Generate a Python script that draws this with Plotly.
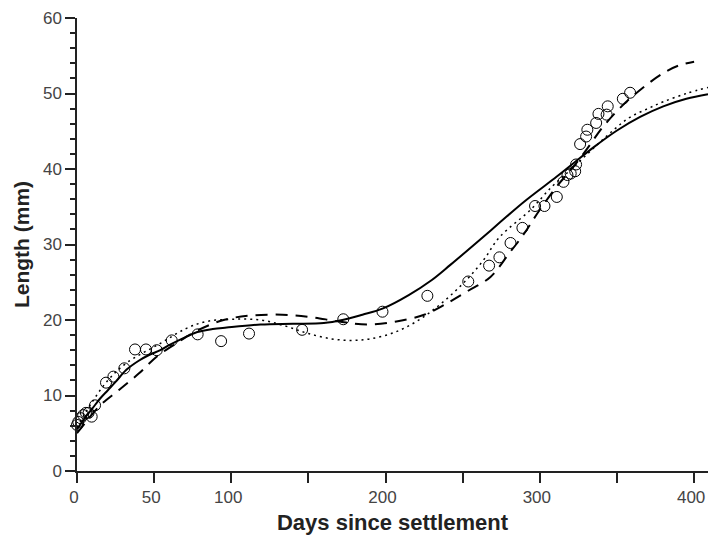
import plotly.graph_objects as go

# Observed lengths (open circles)
obs_days = [0, 0.8, 2.4, 4, 5.8, 7.5, 9.5, 11.7, 18.8, 23.6, 30.7, 37.6, 44.7, 51.7,
            61.4, 78.2, 93.4, 111.5, 145.9, 172.6, 198.0, 227.1, 253.6, 267.1, 273.8,
            281.0, 288.7, 296.9, 303.0, 311.0, 315.3, 317.9, 320.0, 322.9, 323.5,
            326.1, 330.0, 330.8, 336.5, 338.0, 343.3, 344.0, 353.8, 358.5]
obs_len = [6.1, 6.5, 7.0, 7.4, 7.7, 7.7, 7.2, 8.7, 11.7, 12.5, 13.6, 16.1, 16.1, 16.0,
           17.3, 18.1, 17.2, 18.2, 18.7, 20.1, 21.1, 23.2, 25.1, 27.2, 28.3,
           30.2, 32.2, 35.1, 35.1, 36.3, 38.3, 39.2, 39.4, 39.7, 40.6,
           43.3, 44.3, 45.2, 46.1, 47.3, 47.2, 48.3, 49.3, 50.1]

# Solid model curve
solid_days = [0, 5, 10, 15, 20, 25, 32, 40, 47, 54, 60, 70, 78, 88, 97, 119, 140, 160,
              172, 185, 198, 215, 230, 242, 261, 274, 290, 311, 322, 335, 350, 365,
              380, 395, 409]
solid_len = [5.5, 7.0, 8.3, 9.6, 10.7, 11.8, 13.4, 14.6, 15.4, 16.0, 16.7, 17.7, 18.4,
             18.8, 19.0, 19.4, 19.5, 19.6, 20.0, 20.7, 21.5, 23.3, 25.3, 27.3, 30.6,
             32.9, 35.7, 39.0, 40.8, 42.9, 45.1, 46.9, 48.3, 49.3, 49.9]

# Dashed model curve
dash_days = [0, 5, 15, 27, 40, 52, 65, 78, 95, 113, 133, 151, 170, 188, 207, 225, 238,
             253, 268, 280, 290, 299, 311, 321, 330, 341, 353, 367, 380, 390, 400]
dash_len = [5.0, 6.3, 8.7, 10.7, 12.9, 15.2, 17.0, 18.6, 20.0, 20.6, 20.7, 20.4, 19.8,
            19.4, 19.8, 20.7, 22.0, 23.8, 25.7, 28.8, 31.5, 34.3, 37.7, 40.1, 42.5,
            45.6, 48.3, 50.8, 52.7, 53.7, 54.2]

# Dotted model curve
dot_days = [0, 10, 20, 32, 54, 71, 84, 101, 119, 135, 150, 165, 178, 190, 205, 220, 235,
            250, 263, 274, 294, 308, 320, 335, 348, 358, 370, 380, 395, 409]
dot_len = [5.8, 9.2, 12.0, 14.3, 16.9, 18.9, 19.8, 20.1, 20.0, 19.2, 18.2, 17.5, 17.3,
           17.5, 18.3, 19.8, 22.0, 24.8, 27.8, 31.0, 34.6, 37.7, 39.9, 42.8, 45.2, 46.8,
           48.0, 48.9, 50.0, 50.8]

x_tickvals = [0, 50, 100, 150, 200, 250, 300, 350, 400]
x_ticktext = ["0", "50", "100", "", "200", "", "300", "", "400"]
y_tickvals = [0, 10, 20, 30, 40, 50, 60]

fig = go.Figure()
fig.add_trace(go.Scatter(x=dot_days, y=dot_len, mode="lines", line_shape="spline",
                         line=dict(color="black", width=1.5, dash="2px,4px"),
                         showlegend=False))
fig.add_trace(go.Scatter(x=dash_days, y=dash_len, mode="lines", line_shape="spline",
                         line=dict(color="black", width=2, dash="12px,8px"),
                         showlegend=False))
fig.add_trace(go.Scatter(x=solid_days, y=solid_len, mode="lines", line_shape="spline",
                         line=dict(color="black", width=2), showlegend=False))
fig.add_trace(go.Scatter(x=obs_days, y=obs_len, mode="markers", cliponaxis=False,
                         marker=dict(symbol="circle-open", size=11, color="black",
                                     line=dict(width=1, color="black")),
                         showlegend=False))

tickfont = dict(family="Liberation Sans, Arial, sans-serif", size=17, color="#444")
xtitlefont = dict(family="Liberation Sans, Arial, sans-serif", size=22, color="#222",
                  weight="bold")
ytitlefont = dict(family="Liberation Sans, Arial, sans-serif", size=21, color="#222",
                  weight="bold")

fig.update_layout(
    width=708, height=539,
    margin=dict(l=77, r=0, t=18, b=68, autoexpand=False),
    paper_bgcolor="white", plot_bgcolor="white",
    hovermode=False,
    xaxis=dict(range=[0, 409], tickvals=x_tickvals, ticktext=x_ticktext,
               automargin=False, ticklabeloverflow="allow", ticklabelshift=-3,
               ticks="outside", ticklen=10, tickwidth=1.5, tickcolor="#222",
               showline=True, linecolor="#222", linewidth=1.5,
               showgrid=False, zeroline=False, tickfont=tickfont,
               title=dict(text="Days since settlement", font=xtitlefont, standoff=8)),
    yaxis=dict(range=[0, 60], tickvals=y_tickvals, automargin=False,
               ticks="outside", ticklen=10, tickwidth=1.5, tickcolor="#222",
               minor=dict(dtick=2, ticks="outside", ticklen=5, tickwidth=1.5,
                          tickcolor="#222", showgrid=False),
               showline=True, linecolor="#222", linewidth=1.5,
               showgrid=False, zeroline=False, tickfont=tickfont,
               title=dict(text="Length (mm)", font=ytitlefont, standoff=8)),
)

# Remove the default page margin so the 708x539 figure fills the window exactly.
fig.write_html("out.html",
               config={"displayModeBar": False},
               post_script="document.body.style.margin='0px';"
                           "document.documentElement.style.overflow='hidden';")
